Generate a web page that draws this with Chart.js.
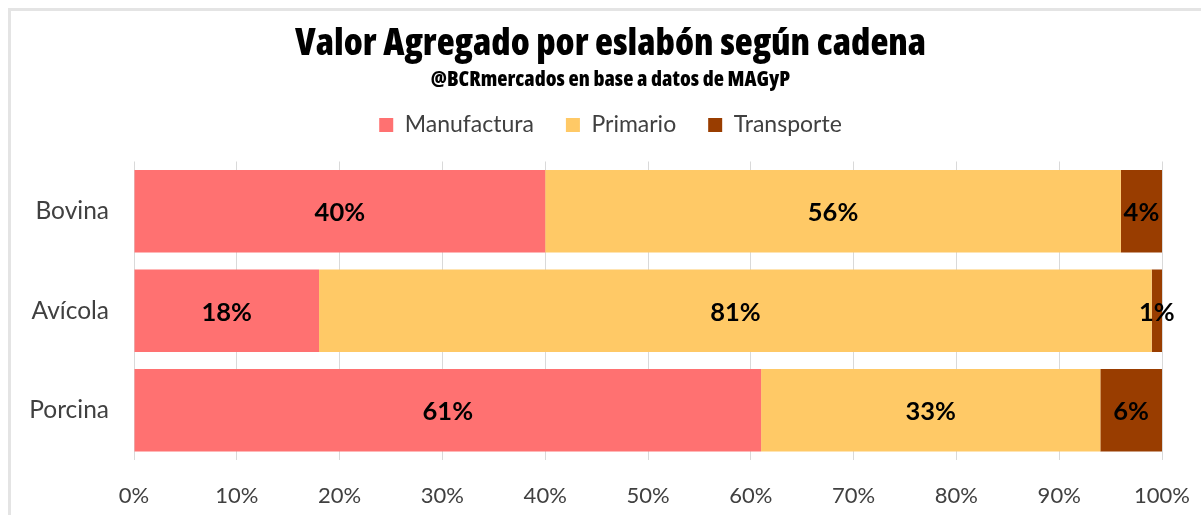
<!DOCTYPE html>
<html>
<head>
<meta charset="utf-8">
<script src="https://cdn.jsdelivr.net/npm/chart.js@4"></script>
<style>
  html, body { margin: 0; padding: 0; background: #fff; overflow: hidden; }
  #frame {
    position: absolute; left: 8px; top: 8px; width: 1300px; height: 600px;
    border-left: 3px solid #e4e4e4; border-top: 3px solid #e4e4e4;
  }
  #wrap { position: absolute; left: 0; top: 0; width: 1201px; height: 515px; }
</style>
</head>
<body>
<div id="frame"></div>
<div id="wrap"><canvas id="chart" width="1201" height="515"></canvas></div>
<script>
// Chart data
const categories = ['Bovina', 'Avícola', 'Porcina'];
const manufactura = [40, 18, 61];
const primario = [56, 81, 33];
const transporte = [4, 1, 6];
const seriesNames = ['Manufactura', 'Primario', 'Transporte'];
const xTicks = [0, 10, 20, 30, 40, 50, 60, 70, 80, 90, 100];

const COLORS = ['#ff7171', '#ffc966', '#993d00'];
const TEXT_FONT = 'Lato, "Open Sans", sans-serif';
const TITLE_FONT = '"Open Sans", Roboto, sans-serif';

// draws the value in the middle of each bar segment
const barLabels = {
  id: 'barLabels',
  afterDatasetsDraw(chart) {
    const ctx = chart.ctx;
    ctx.save();
    ctx.font = `bold 25.5px ${TEXT_FONT}`;
    ctx.fillStyle = '#000';
    ctx.textAlign = 'center';
    ctx.textBaseline = 'middle';
    chart.data.datasets.forEach((ds, i) => {
      chart.getDatasetMeta(i).data.forEach((bar, j) => {
        const p = bar.getCenterPoint();
        ctx.fillText(ds.data[j] + '%', p.x, p.y + 2);
      });
    });
    ctx.restore();
  }
};

// empty axis used only as spacer
function spacer(position, size) {
  return {
    type: 'linear',
    position: position,
    display: true,
    grid: { display: false, drawTicks: false },
    border: { display: false },
    ticks: { display: false },
    afterFit: scale => {
      if (scale.isHorizontal()) scale.height = size;
      else scale.width = size;
    }
  };
}

new Chart(document.getElementById('chart'), {
  type: 'bar',
  data: {
    labels: categories,
    datasets: [manufactura, primario, transporte].map((values, i) => ({
      label: seriesNames[i],
      data: values,
      backgroundColor: COLORS[i],
      borderWidth: 0,
      barPercentage: 1,
      categoryPercentage: 0.83,
      xAxisID: 'x',
      yAxisID: 'y'
    }))
  },
  options: {
    indexAxis: 'y',
    responsive: false,
    animation: false,
    layout: { padding: { left: 20, right: 0, top: 0, bottom: 0 } },
    plugins: {
      title: {
        display: true,
        text: 'Valor Agregado por eslabón según cadena',
        color: '#000',
        // "condensed" goes into the font shorthand after the weight
        font: { family: TITLE_FONT, size: 37, weight: '800 condensed', lineHeight: 1 },
        padding: { top: 26, bottom: 0 }
      },
      subtitle: {
        display: true,
        text: '@BCRmercados en base a datos de MAGyP',
        color: '#000',
        font: { family: TITLE_FONT, size: 21, weight: '800 condensed', lineHeight: 1 },
        padding: { top: 7, bottom: -9.5 }
      },
      legend: {
        position: 'top',
        labels: {
          boxWidth: 14,
          boxHeight: 14,
          padding: 32,
          color: '#404040',
          font: { family: TEXT_FONT, size: 23 }
        }
      },
      tooltip: { enabled: false }
    },
    scales: {
      x: {
        stacked: true,
        min: 0,
        max: 100,
        afterBuildTicks: scale => { scale.ticks = xTicks.map(v => ({ value: v })); },
        afterFit: scale => {
          scale.height = 55;
          scale.paddingLeft = 0;
          scale.paddingRight = 0;
        },
        grid: { color: '#d9d9d9', drawTicks: false },
        border: { display: false },
        ticks: {
          padding: 23,
          maxRotation: 0,
          color: '#404040',
          font: { family: TEXT_FONT, size: 22 },
          callback: v => v + '%'
        }
      },
      xTop: spacer('top', 15),
      yRight: spacer('right', 39),
      y: {
        stacked: true,
        afterFit: scale => {
          scale.width = 114;
          scale.paddingTop = 0;
          scale.paddingBottom = 0;
        },
        grid: { display: false, drawTicks: false },
        border: { display: false },
        ticks: {
          padding: 25,
          color: '#404040',
          font: { family: TEXT_FONT, size: 24.5 }
        }
      }
    }
  },
  plugins: [barLabels]
});
</script>
</body>
</html>
